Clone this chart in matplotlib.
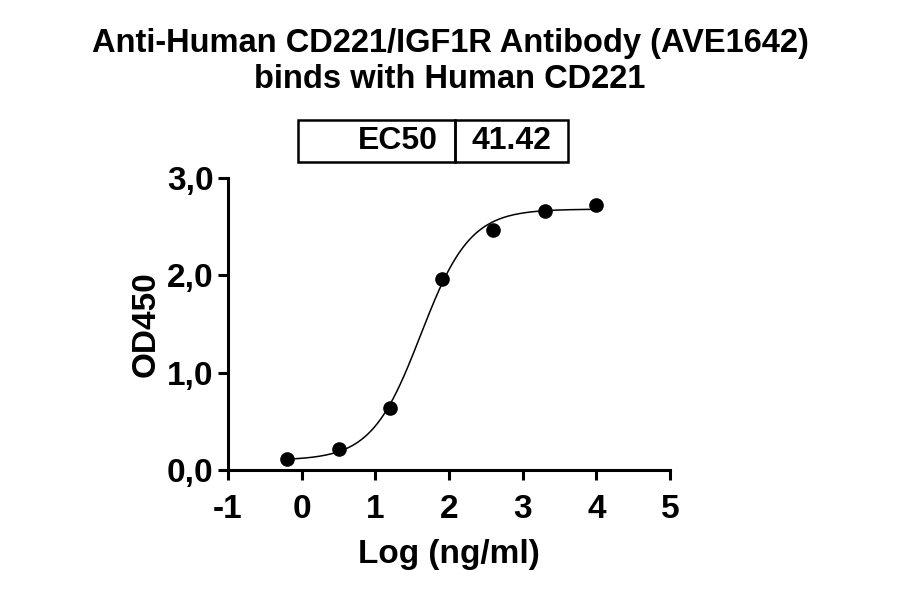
import numpy as np
import matplotlib
matplotlib.use("Agg")
import matplotlib.pyplot as plt
from matplotlib.patches import Rectangle
from matplotlib.ticker import FuncFormatter

plt.rcParams['font.family'] = ['Liberation Sans', 'DejaVu Sans']
plt.rcParams['font.weight'] = 'bold'
plt.rcParams['axes.unicode_minus'] = False

# measured points: log10 concentration (ng/ml) vs OD450
log_conc = [-0.194, 0.505, 1.204, 1.903, 2.602, 3.301, 4.0]
od450 = [0.11, 0.22, 0.64, 1.96, 2.47, 2.66, 2.72]

# 4PL fit parameters
bottom = 0.10
top = 2.68
ec50 = 41.42
hill = 1.3

title = "Anti-Human CD221/IGF1R Antibody (AVE1642)\nbinds with Human CD221"
xticks = [-1, 0, 1, 2, 3, 4, 5]
yticks = [0, 1, 2, 3]

fig = plt.figure(figsize=(9, 5.94), dpi=100)
ax = fig.add_axes([0.2533, 0.2088, 0.4911, 0.4916])

xfit = np.linspace(min(log_conc), max(log_conc), 300)
yfit = bottom + (top - bottom) / (1 + 10 ** ((np.log10(ec50) - xfit) * hill))
ax.plot(xfit, yfit, color="black", lw=1.1)
ax.plot(log_conc, od450, "o", color="black", ms=9.5, clip_on=False)

ax.set_xlim(-1, 5)
ax.set_ylim(0, 3)
ax.set_xticks(xticks)
ax.set_yticks(yticks)
ax.yaxis.set_major_formatter(FuncFormatter(lambda v, p: f"{v:.1f}".replace(".", ",")))
ax.tick_params(width=2.2, length=7.5, labelsize=24)
ax.tick_params(axis="x", pad=10)
ax.tick_params(axis="y", pad=3)
for lab in ax.get_xticklabels() + ax.get_yticklabels():
    lab.set_fontweight("bold")
for s in ["top", "right"]:
    ax.spines[s].set_visible(False)
for s in ["left", "bottom"]:
    ax.spines[s].set_linewidth(2.2)

ax.set_xlabel("Log (ng/ml)", fontsize=24, fontweight="bold", labelpad=10)
ax.set_ylabel("OD450", fontsize=24, fontweight="bold", labelpad=4)

fig.text(0.5, 0.896, title, ha="center", va="center", fontsize=23.5,
         fontweight="bold", linespacing=1.2)

# EC50 box above the plot (axes coordinates)
box_x0, box_xm, box_x1 = 0.158, 0.513, 0.769
box_y0, box_y1 = 1.055, 1.199
for a, b in [(box_x0, box_xm), (box_xm, box_x1)]:
    ax.add_patch(Rectangle((a, box_y0), b - a, box_y1 - box_y0, transform=ax.transAxes,
                           fill=False, lw=1.8, ec="black", clip_on=False))
ymid = (box_y0 + box_y1) / 2
ax.text(box_xm - 0.038, ymid, "EC50", transform=ax.transAxes, ha="right", va="center",
        fontsize=23, fontweight="bold")
ax.text((box_xm + box_x1) / 2, ymid, f"{ec50:.2f}", transform=ax.transAxes,
        ha="center", va="center", fontsize=23, fontweight="bold")

fig.savefig("out.png", dpi=100)
